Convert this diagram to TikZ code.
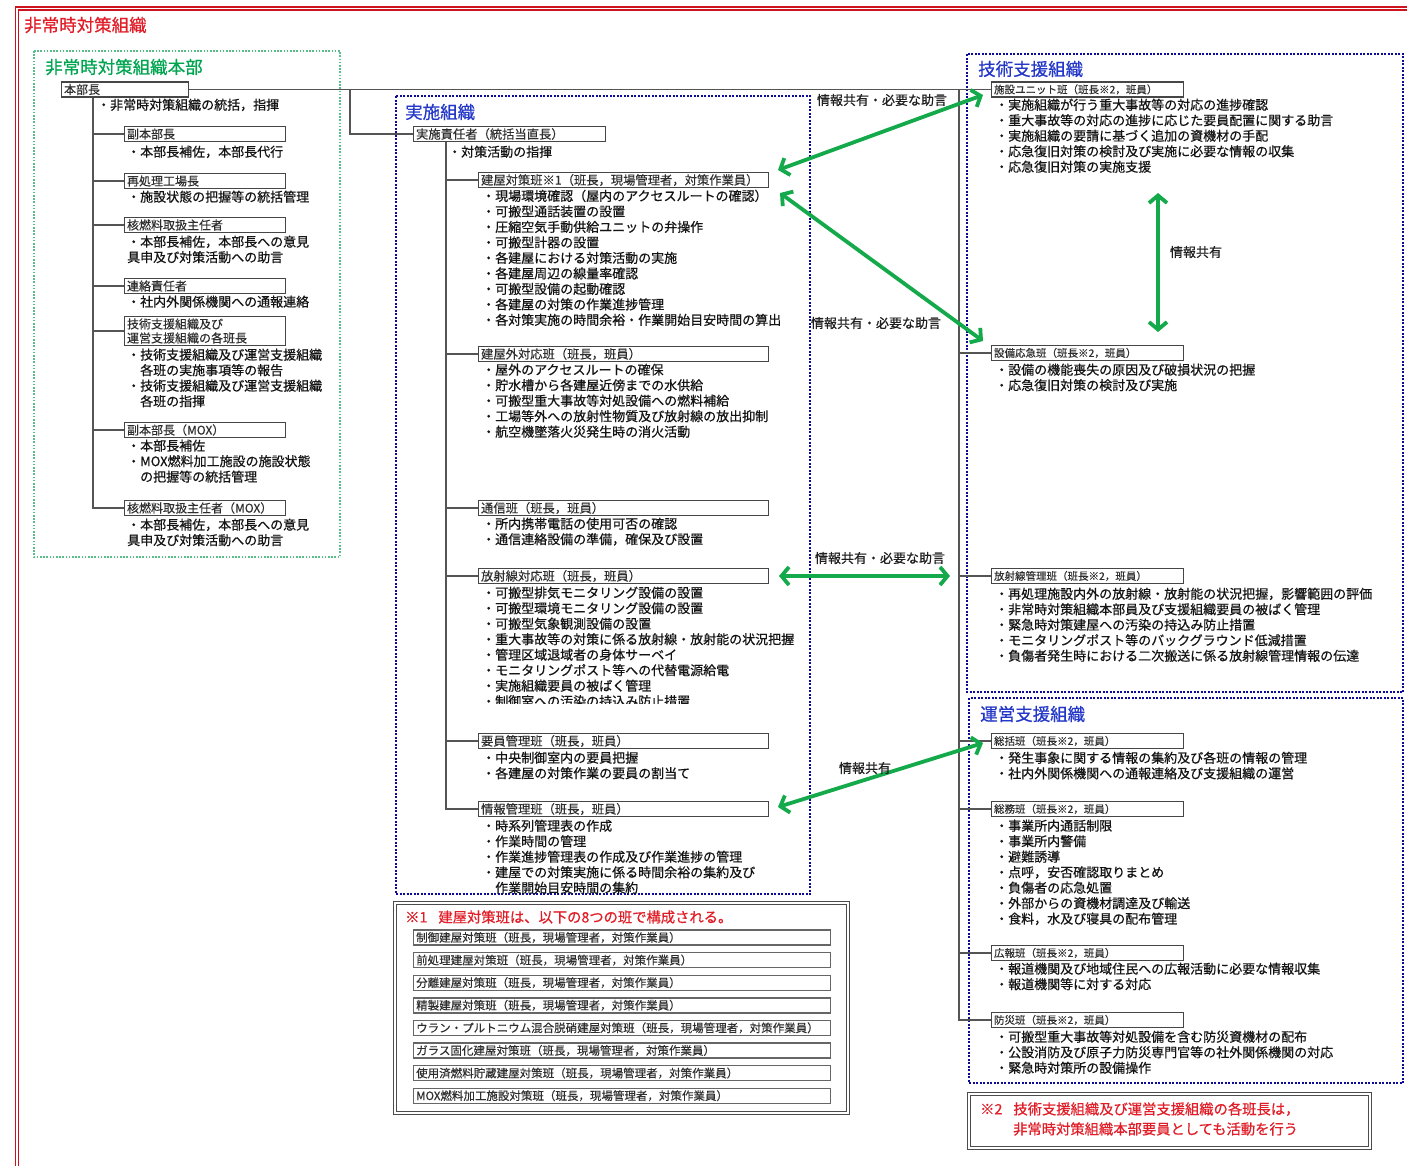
\documentclass[tikz,border=0pt]{standalone}
\usepackage{fontspec}
\newfontfamily\jp{Noto Sans CJK JP}[FakeBold=0.6]
\newfontfamily\jpl{Noto Sans CJK JP}[FakeBold=0.3]
\usetikzlibrary{arrows.meta}
\newcommand\myfs[2]{\fontsize{#1}{#2}\selectfont}
\definecolor{frred}{RGB}{205,20,30}
\definecolor{ttred}{RGB}{225,30,40}
\definecolor{hqgreen}{RGB}{0,165,80}
\definecolor{hqdot}{RGB}{90,190,140}
\definecolor{orgblue}{RGB}{35,55,200}
\definecolor{dotblue}{RGB}{10,10,150}
\definecolor{arrgreen}{RGB}{20,170,75}
\definecolor{linegray}{RGB}{85,85,85}
\definecolor{boxgray}{RGB}{70,70,70}
\begin{document}
\begin{tikzpicture}[x=1pt,y=-1pt,
  txt/.style={font=\jp\myfs{13}{15.5}, text=black!92, inner sep=0pt, anchor=north west, align=left},
  ttl/.style={font=\jp\myfs{17.5}{20}, inner sep=0pt, anchor=west},
  bx/.style={draw=boxgray, line width=1.1pt, text=black!82, inner xsep=2.5pt, inner ysep=0pt, minimum height=15pt, anchor=west, align=left},
  lbx/.style={bx, font=\jpl\myfs{12}{14}, text width=#1},
  mbx/.style={bx, font=\jpl\myfs{12.3}{14}, text width=#1},
  rbx/.style={bx, font=\jpl\myfs{10.5}{13}, text width=187pt},
  fib/.style={bx, font=\jpl\myfs{11.5}{13}, text width=412pt, line width=1.4pt, draw=black!60},
  conn/.style={draw=linegray, line width=1.1pt},
  bdot/.style={draw=dotblue, line width=2pt, dash pattern=on 2pt off 1.5pt},
  fbox/.style={draw=black!70, line width=1.2pt, double=white, double distance=1.1pt},
  garrow/.style={draw=arrgreen, line width=3.8pt, >={Straight Barb[length=7.5pt,width=18pt]}, <->},
  alab/.style={font=\jp\myfs{13}{15}, text=black!88, inner sep=0pt},
  red/.style={font=\jp\myfs{14.3}{20}, text=ttred, inner sep=0pt, align=left}
]
\useasboundingbox (0,0) rectangle (1407,1165);
\fill[white] (0,0) rectangle (1407,1165);

% outer frame
\draw[frred, line width=1.3pt, double=white, double distance=1.6pt] (17,8.5) rectangle (1440,1185);
\node[ttl, text=ttred] (ttlall) at (24,25) {非常時対策組織};

% ===== HQ (left) =====
\draw[hqdot, line width=1.8pt, dash pattern=on 1.6pt off 1.6pt] (34,51) rectangle (340,557);
\node[ttl, text=hqgreen] (ttlhq) at (45,67) {非常時対策組織本部};

\node[lbx=122pt] (hq) at (61,89.5) {本部長};
\node[txt] (thq) at (97,98.5) {・非常時対策組織の統括，指揮};

\node[lbx=156pt] (fuku) at (124,134) {副本部長};
\node[txt] (tfuku) at (127,145.5) {・本部長補佐，本部長代行};

\node[lbx=156pt] (kojo) at (124,181) {再処理工場長};
\node[txt] (tkojo) at (127,190.5) {・施設状態の把握等の統括管理};

\node[lbx=156pt] (kaku) at (124,225) {核燃料取扱主任者};
\node[txt] (tkaku) at (127,235.5) {・本部長補佐，本部長への意見\\具申及び対策活動への助言};

\node[lbx=156pt] (renraku) at (124,286) {連絡責任者};
\node[txt] (trenraku) at (127,295.5) {・社内外関係機関への通報連絡};

\node[lbx=156pt, minimum height=29pt] (kakuhan) at (124,331) {技術支援組織及び\\運営支援組織の各班長};
\node[txt] (tkakuhan) at (127,348.5) {・技術支援組織及び運営支援組織\\\hspace*{1em}各班の実施事項等の報告\\・技術支援組織及び運営支援組織\\\hspace*{1em}各班の指揮};

\node[lbx=156pt] (fukumox) at (124,430) {副本部長（MOX）};
\node[txt] (tfukumox) at (127,439.5) {・本部長補佐\\・MOX燃料加工施設の施設状態\\\hspace*{1em}の把握等の統括管理};

\node[lbx=156pt] (kakumox) at (124,508) {核燃料取扱主任者（MOX）};
\node[txt] (tkakumox) at (127,518.5) {・本部長補佐，本部長への意見\\具申及び対策活動への助言};

\coordinate (Ltrunk) at ([xshift=32pt]hq.south west);
\foreach \b in {fuku,kojo,kaku,renraku,kakuhan,fukumox,kakumox}
  \draw[conn] (Ltrunk) |- (\b.west);

% ===== Implementation org (middle) =====
\draw[bdot] (396,96) rectangle (810,894);
\node[ttl, text=orgblue] (ttljs) at (405,112) {実施組織};

\node[mbx=187pt] (jisshi) at (413,134) {実施責任者（統括当直長）};
\node[txt] (tjisshi) at (448,145.5) {・対策活動の指揮};

\node[mbx=285pt] (tateya) at (478,180) {建屋対策班※1（班長，現場管理者，対策作業員）};
\node[txt] (ttateya) at (482,189.5) {・現場環境確認（屋内のアクセスルートの確認）\\・可搬型通話装置の設置\\・圧縮空気手動供給ユニットの弁操作\\・可搬型計器の設置\\・各建屋における対策活動の実施\\・各建屋周辺の線量率確認\\・可搬型設備の起動確認\\・各建屋の対策の作業進捗管理\\・各対策実施の時間余裕・作業開始目安時間の算出};

\node[mbx=285pt] (okugai) at (478,354) {建屋外対応班（班長，班員）};
\node[txt] (tokugai) at (482,363.5) {・屋外のアクセスルートの確保\\・貯水槽から各建屋近傍までの水供給\\・可搬型重大事故等対処設備への燃料補給\\・工場等外への放射性物質及び放射線の放出抑制\\・航空機墜落火災発生時の消火活動};

\node[mbx=285pt] (tsushin) at (478,508) {通信班（班長，班員）};
\node[txt] (ttsushin) at (482,517.5) {・所内携帯電話の使用可否の確認\\・通信連絡設備の準備，確保及び設置};

\node[mbx=285pt] (hoshasen) at (478,576) {放射線対応班（班長，班員）};
\node[txt] (thoshasen) at (482,586.5) {・可搬型排気モニタリング設備の設置\\・可搬型環境モニタリング設備の設置\\・可搬型気象観測設備の設置\\・重大事故等の対策に係る放射線・放射能の状況把握\\・管理区域退域者の身体サーベイ\\・モニタリングポスト等への代替電源給電\\・実施組織要員の被ばく管理};
\begin{scope}
\clip (470,690) rectangle (800,703);
\node[txt] (thoshasen8) at (482,695) {・制御室への汚染の持込み防止措置};
\end{scope}

\node[mbx=285pt] (yoin) at (478,741) {要員管理班（班長，班員）};
\node[txt] (tyoin) at (482,751.5) {・中央制御室内の要員把握\\・各建屋の対策作業の要員の割当て};

\node[mbx=285pt] (joho) at (478,809) {情報管理班（班長，班員）};
\node[txt] (tjoho) at (482,819.5) {・時系列管理表の作成\\・作業時間の管理\\・作業進捗管理表の作成及び作業進捗の管理\\・建屋での対策実施に係る時間余裕の集約及び\\\hspace*{1em}作業開始目安時間の集約};

\coordinate (Mtrunk) at ([xshift=33pt]jisshi.south west);
\foreach \b in {tateya,okugai,tsushin,hoshasen,yoin,joho}
  \draw[conn] (Mtrunk) |- (\b.west);

% footnote 1
\draw[fbox] (395,903) rectangle (848,1113);
\node[red, anchor=west] (fn1) at (405,917) {※1\hspace{11pt}建屋対策班は、以下の8つの班で構成される。};
\node[fib] (f1) at (413,937.5) {制御建屋対策班（班長，現場管理者，対策作業員）};
\node[fib] (f2) at (413,960.1) {前処理建屋対策班（班長，現場管理者，対策作業員）};
\node[fib] (f3) at (413,982.7) {分離建屋対策班（班長，現場管理者，対策作業員）};
\node[fib] (f4) at (413,1005.3) {精製建屋対策班（班長，現場管理者，対策作業員）};
\node[fib] (f5) at (413,1027.9) {ウラン・プルトニウム混合脱硝建屋対策班（班長，現場管理者，対策作業員）};
\node[fib] (f6) at (413,1050.5) {ガラス固化建屋対策班（班長，現場管理者，対策作業員）};
\node[fib] (f7) at (413,1073.1) {使用済燃料貯蔵建屋対策班（班長，現場管理者，対策作業員）};
\node[fib] (f8) at (413,1095.7) {MOX燃料加工施設対策班（班長，現場管理者，対策作業員）};

% ===== Technical support (right top) =====
\draw[bdot] (967,54) rectangle (1403,692);
\node[ttl, text=orgblue] (ttlgi) at (978,69) {技術支援組織};

\node[rbx] (shisetsu) at (991,89.5) {施設ユニット班（班長※2，班員）};
\node[txt] (tshisetsu) at (995,98.5) {・実施組織が行う重大事故等の対応の進捗確認\\・重大事故等の対応の進捗に応じた要員配置に関する助言\\・実施組織の要請に基づく追加の資機材の手配\\・応急復旧対策の検討及び実施に必要な情報の収集\\・応急復旧対策の実施支援};

\node[rbx] (setsubi) at (991,353) {設備応急班（班長※2，班員）};
\node[txt] (tsetsubi) at (995,363.5) {・設備の機能喪失の原因及び破損状況の把握\\・応急復旧対策の検討及び実施};

\node[rbx] (hokan) at (991,576) {放射線管理班（班長※2，班員）};
\node[txt] (thokan) at (995,587.5) {・再処理施設内外の放射線・放射能の状況把握，影響範囲の評価\\・非常時対策組織本部員及び支援組織要員の被ばく管理\\・緊急時対策建屋への汚染の持込み防止措置\\・モニタリングポスト等のバックグラウンド低減措置\\・負傷者発生時における二次搬送に係る放射線管理情報の伝達};

% ===== Operation support (right bottom) =====
\draw[bdot] (969,698) rectangle (1403,1083);
\node[ttl, text=orgblue] (ttlun) at (980,714) {運営支援組織};

\node[rbx] (sokatsu) at (991,741) {総括班（班長※2，班員）};
\node[txt] (tsokatsu) at (995,751.5) {・発生事象に関する情報の集約及び各班の情報の管理\\・社内外関係機関への通報連絡及び支援組織の運営};

\node[rbx] (somu) at (991,809) {総務班（班長※2，班員）};
\node[txt] (tsomu) at (995,819.5) {・事業所内通話制限\\・事業所内警備\\・避難誘導\\・点呼，安否確認取りまとめ\\・負傷者の応急処置\\・外部からの資機材調達及び輸送\\・食料，水及び寝具の配布管理};

\node[rbx] (koho) at (991,953) {広報班（班長※2，班員）};
\node[txt] (tkoho) at (995,962.5) {・報道機関及び地域住民への広報活動に必要な情報収集\\・報道機関等に対する対応};

\node[rbx] (bosai) at (991,1020) {防災班（班長※2，班員）};
\node[txt] (tbosai) at (995,1030.5) {・可搬型重大事故等対処設備を含む防災資機材の配布\\・公設消防及び原子力防災専門官等の社外関係機関の対応\\・緊急時対策所の設備操作};

% footnote 2
\draw[fbox] (969,1094) rectangle (1370,1148);
\node[red, anchor=north west] (fn2) at (980,1102) {※2\hspace{11pt}技術支援組織及び運営支援組織の各班長は，\\\hspace*{33pt}非常時対策組織本部要員としても活動を行う};

% ===== trunk connectors =====
\coordinate (Rtrunk) at (959,89.5);
\coordinate (Mfork) at (350,89.5);
\draw[conn] (hq.east) -- (Rtrunk) |- (shisetsu.west);
\draw[conn] (Mfork) |- (jisshi.west);
\foreach \b in {setsubi,hokan,sokatsu,somu,koho,bosai}
  \draw[conn] (Rtrunk) |- (\b.west);

% ===== green arrows =====
\coordinate (a1r) at (983,95);   \coordinate (a1l) at (778,170);
\coordinate (a2l) at (780,193);  \coordinate (a2r) at (983,341);
\coordinate (a3l) at (779,576);  \coordinate (a3r) at (950,576);
\coordinate (a4l) at (778,807);  \coordinate (a4r) at (983,743);
\coordinate (a5t) at (1158,193); \coordinate (a5b) at (1158,332);
\draw[garrow] (a1l) -- (a1r);
\draw[garrow] (a2l) -- (a2r);
\draw[garrow] (a3l) -- (a3r);
\draw[garrow] (a4l) -- (a4r);
\draw[garrow] (a5t) -- (a5b);
\node[alab] (l1) at (882,100) {情報共有・必要な助言};
\node[alab] (l2) at (876,323) {情報共有・必要な助言};
\node[alab] (l3) at (880,558) {情報共有・必要な助言};
\node[alab] (l4) at (865,768) {情報共有};
\node[alab] (l5) at (1196,252) {情報共有};
\end{tikzpicture}
\end{document}
